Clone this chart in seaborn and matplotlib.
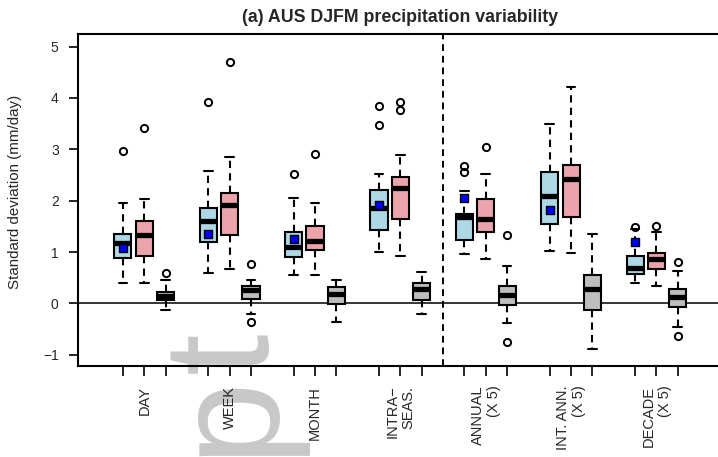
import matplotlib
matplotlib.use("Agg")
import matplotlib.pyplot as plt
import seaborn as sns

# box order per group: observed-like (blue), model (pink), difference (gray)
GROUPS = ["DAY", "WEEK", "MONTH", "INTRA\u2212\nSEAS.", "ANNUAL\n(X 5)",
          "INT. ANN.\n(X 5)", "DECADE\n(X 5)"]
POSITIONS = [1, 2, 3, 5, 6, 7, 9, 10, 11, 13, 14, 15, 17, 18, 19, 21, 22, 23, 25, 26, 27]
KINDS = ["blue", "pink", "gray"] * 7

WHISLO = [0.39, 0.39, -0.13,  0.59, 0.66, -0.21,  0.56, 0.56, -0.37,
          1.00, 0.93, -0.21,  0.97, 0.86, -0.39,  1.01, 0.98, -0.88,
          0.39, 0.34, -0.47]
Q1 = [0.88, 0.92, 0.06,  1.19, 1.34, 0.09,  0.90, 1.03, -0.01,
      1.43, 1.64, 0.06,  1.23, 1.39, -0.04,  1.54, 1.68, -0.13,
      0.57, 0.67, -0.08]
MED = [1.17, 1.34, 0.15,  1.61, 1.92, 0.26,  1.10, 1.22, 0.19,
       1.85, 2.25, 0.28,  1.69, 1.64, 0.17,  2.10, 2.42, 0.27,
       0.69, 0.86, 0.13]
Q3 = [1.35, 1.60, 0.23,  1.85, 2.14, 0.34,  1.39, 1.51, 0.31,
      2.21, 2.46, 0.40,  1.74, 2.03, 0.34,  2.55, 2.70, 0.55,
      0.93, 0.99, 0.27]
WHISHI = [1.96, 2.04, 0.46,  2.57, 2.86, 0.46,  2.05, 1.96, 0.46,
          2.52, 2.88, 0.62,  2.19, 2.51, 0.72,  3.50, 4.21, 1.36,
          1.44, 1.38, 0.63]
FLIERS = [[2.97], [3.42], [0.59],  [3.93], [4.70], [0.76, -0.37],  [2.51], [2.91], [],
          [3.84, 3.48], [3.92, 3.77], [],  [2.68, 2.55], [3.05], [1.34, -0.76],  [], [], [],
          [1.48], [1.51], [0.80, -0.64]]

# blue squares on the first box of each group
SQUARE_POS = [1, 5, 9, 13, 17, 21, 25]
SQUARE_VAL = [1.08, 1.36, 1.25, 1.92, 2.06, 1.81, 1.20]

COLORS = {"blue": "#ADD8E6", "pink": "#EBA3AC", "gray": "#BEBEBE"}

sns.set_style("white")
plt.rcParams["font.family"] = ["Liberation Sans", "DejaVu Sans"]

fig = plt.figure(figsize=(7.18, 4.57), dpi=100)
fig.patch.set_facecolor("white")
ax = fig.add_axes([77.7 / 718, 1 - 366 / 457, (723 - 77.7) / 718, (366 - 34.3) / 457])
ax.set_facecolor("none")

# faint watermark fragment behind the plot
wm = dict(rotation=90, rotation_mode="anchor", ha="center", va="baseline",
          fontsize=108, color="#C8C8C8", zorder=-1,
          family=["Liberation Sans Narrow", "Liberation Sans"])
fig.text(270 / 718, 1 - 414 / 457, "p", **wm)
fig.text(267 / 718, 1 - 352 / 457, "t", **wm)

stats = []
for i in range(len(POSITIONS)):
    stats.append({"whislo": WHISLO[i], "q1": Q1[i], "med": MED[i], "q3": Q3[i],
                  "whishi": WHISHI[i], "fliers": FLIERS[i]})

dash = (0, (3.5, 2.5))
bp = ax.bxp(stats, positions=POSITIONS, widths=0.8, capwidths=0.4,
            patch_artist=True, showfliers=True, manage_ticks=False,
            boxprops=dict(linewidth=1.5, edgecolor="black"),
            whiskerprops=dict(linewidth=1.5, linestyle=dash, color="black"),
            capprops=dict(linewidth=1.5, color="black"),
            medianprops=dict(linewidth=3.8, color="black", solid_capstyle="butt"),
            flierprops=dict(marker="o", markerfacecolor="none", markeredgecolor="black",
                            markersize=5.2, markeredgewidth=1.4))
for patch, kind in zip(bp["boxes"], KINDS):
    patch.set_facecolor(COLORS[kind])
    patch.set_zorder(2)

sns.scatterplot(x=SQUARE_POS, y=SQUARE_VAL, marker="s", color="#0000FF",
                edgecolor="black", linewidth=1.0, s=26, ax=ax, zorder=5, legend=False)

ax.axhline(0, color="black", linewidth=1.1, zorder=1)
ax.axvline(16, color="black", linewidth=1.4, linestyle=dash, zorder=1)

ax.set_xlim(-1.12, 29.12)
ax.set_ylim(-1.22, 5.24)
ax.set_yticks([-1, 0, 1, 2, 3, 4, 5])
ax.set_xticks(POSITIONS)
xlabels = []
for i, p in enumerate(POSITIONS):
    xlabels.append(GROUPS[i // 3] if i % 3 == 1 else "")
ax.set_xticklabels(xlabels, rotation=90, multialignment="right", fontsize=10.5)
ax.tick_params(axis="x", direction="out", length=7.2, width=1.4, pad=7, bottom=True)
ax.tick_params(axis="y", direction="out", length=6.7, width=1.4, pad=7, left=True,
               labelsize=10)
for s in ax.spines.values():
    s.set_linewidth(1.5)
    s.set_color("black")

ax.set_ylabel("Standard deviation (mm/day)", fontsize=10.9)
ax.yaxis.set_label_coords(-0.087, 0.525)
ax.set_title("(a) AUS DJFM precipitation variability", fontsize=12.8,
             fontweight="bold", pad=9)

fig.savefig("out.png", dpi=100)
